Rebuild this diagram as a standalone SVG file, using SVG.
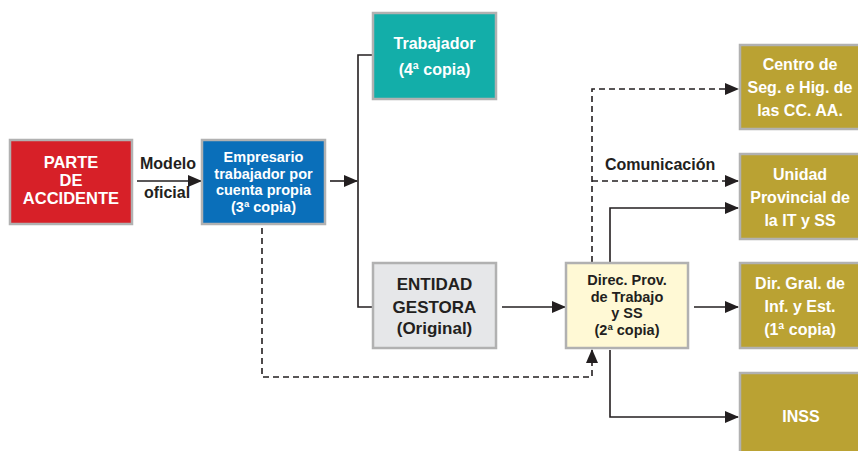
<svg xmlns="http://www.w3.org/2000/svg" width="858" height="451" viewBox="0 0 858 451">
  <defs>
    <marker id="arrow" markerUnits="userSpaceOnUse" markerWidth="14" markerHeight="12" viewBox="0 0 14 12" refX="13" refY="6" orient="auto">
      <path d="M0,0 L14,6 L0,12 Z" fill="#231f20"/>
    </marker>
    <style>
      .box { stroke: #b1b1b1; stroke-width: 2.5; }
      .red { fill: #d72028; }
      .blue { fill: #0a6fba; }
      .teal { fill: #13aea9; }
      .grey { fill: #e6e7e9; }
      .cream { fill: #fff9d5; }
      .gold { fill: #baa233; }
      text { font-family: "Liberation Sans", Arial, sans-serif; font-weight: bold; text-anchor: middle; }
      .w { fill: #ffffff; }
      .d { fill: #231f20; }
      .line { fill: none; stroke: #231f20; stroke-width: 1.6; }
      .dash { stroke-dasharray: 6 4; }
    </style>
  </defs>

  <rect width="858" height="451" fill="#ffffff"/>

  <!-- connectors -->
  <g id="connectors">
    <path class="line" d="M137,181 H201" marker-end="url(#arrow)"/>
    <path class="line" d="M330,181 H357" marker-end="url(#arrow)"/>
    <path class="line" d="M372,55 H358 V307 H372"/>
    <path class="line" d="M502,307 H565" marker-end="url(#arrow)"/>
    <path class="line dash" d="M262,228 V377 H592 V350" marker-end="url(#arrow)"/>
    <path class="line dash" d="M592,262 V89 H738" marker-end="url(#arrow)"/>
    <path class="line dash" d="M592,181 H738" marker-end="url(#arrow)"/>
    <path class="line" d="M610,263 V208 H738" marker-end="url(#arrow)"/>
    <path class="line" d="M694,307 H738" marker-end="url(#arrow)"/>
    <path class="line" d="M610,350 V417 H738" marker-end="url(#arrow)"/>
    <text class="d" x="168" y="169" font-size="16">Modelo</text>
    <text class="d" x="167" y="198" font-size="16">oficial</text>
    <text class="d" x="605" y="170" font-size="16" style="text-anchor:start">Comunicación</text>
  </g>

  <g id="parte">
    <rect class="box red" x="10" y="140" width="122" height="84"/>
    <text class="w" x="71" y="168" font-size="16.5">PARTE</text>
    <text class="w" x="71" y="186" font-size="16.5">DE</text>
    <text class="w" x="71" y="204" font-size="16.5">ACCIDENTE</text>
  </g>

  <g id="empresario">
    <rect class="box blue" x="202" y="140" width="123" height="84"/>
    <text class="w" x="263.5" y="162" font-size="14.5">Empresario</text>
    <text class="w" x="263.5" y="178.5" font-size="14.5">trabajador por</text>
    <text class="w" x="263.5" y="195" font-size="14.5">cuenta propia</text>
    <text class="w" x="263.5" y="211.5" font-size="14.5">(3ª copia)</text>
  </g>

  <g id="trabajador">
    <rect class="box teal" x="373" y="13" width="123" height="86"/>
    <text class="w" x="434.5" y="49" font-size="16">Trabajador</text>
    <text class="w" x="434.5" y="75" font-size="16">(4ª copia)</text>
  </g>

  <g id="entidad">
    <rect class="box grey" x="373" y="263" width="123" height="85"/>
    <text class="d" x="434.5" y="290" font-size="17">ENTIDAD</text>
    <text class="d" x="434.5" y="312.5" font-size="17">GESTORA</text>
    <text class="d" x="434.5" y="334" font-size="17">(Original)</text>
  </g>

  <g id="direccion">
    <rect class="box cream" x="566" y="263" width="122" height="85"/>
    <text class="d" x="627" y="285" font-size="14.5">Direc. Prov.</text>
    <text class="d" x="627" y="301.5" font-size="14.5">de Trabajo</text>
    <text class="d" x="627" y="318" font-size="14.5">y SS</text>
    <text class="d" x="627" y="334.5" font-size="14.5">(2ª copia)</text>
  </g>

  <g id="centro">
    <rect class="box gold" x="740" y="45" width="122" height="84"/>
    <text class="w" x="800" y="69.5" font-size="16">Centro de</text>
    <text class="w" x="800" y="92.5" font-size="16">Seg. e Hig. de</text>
    <text class="w" x="800" y="115.5" font-size="16">las CC. AA.</text>
  </g>

  <g id="unidad">
    <rect class="box gold" x="740" y="154" width="122" height="85"/>
    <text class="w" x="800" y="179.5" font-size="16">Unidad</text>
    <text class="w" x="800" y="202.5" font-size="16">Provincial de</text>
    <text class="w" x="800" y="225.5" font-size="16">la IT y SS</text>
  </g>

  <g id="dirgral">
    <rect class="box gold" x="740" y="263" width="122" height="85"/>
    <text class="w" x="800" y="288.5" font-size="16">Dir. Gral. de</text>
    <text class="w" x="800" y="311.5" font-size="16">Inf. y Est.</text>
    <text class="w" x="800" y="334.5" font-size="16">(1ª copia)</text>
  </g>

  <g id="inss">
    <rect class="box gold" x="740" y="373" width="122" height="90"/>
    <text class="w" x="801" y="421.5" font-size="16">INSS</text>
  </g>
</svg>
